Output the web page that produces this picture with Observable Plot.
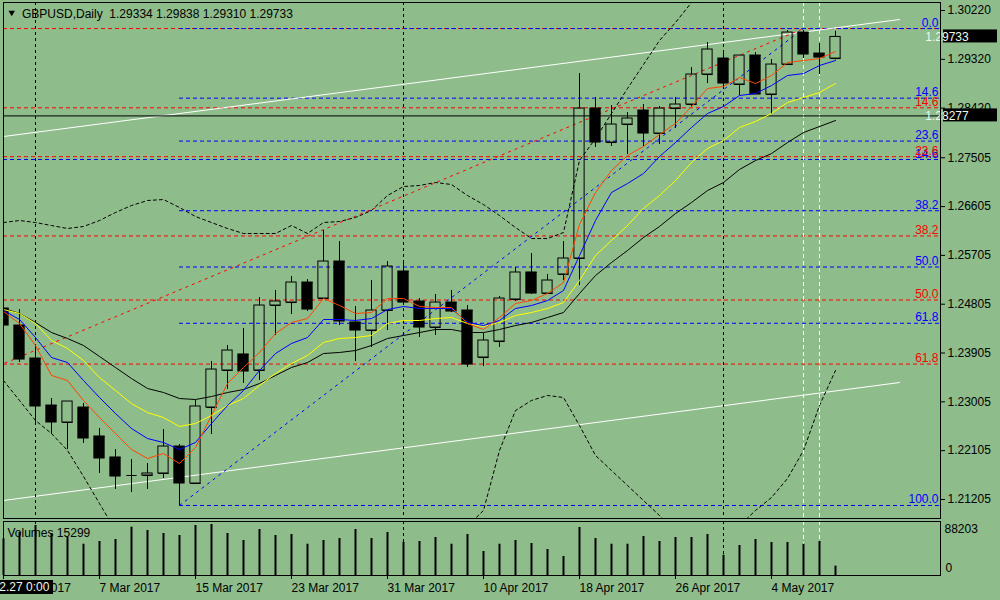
<!DOCTYPE html>
<html><head><meta charset="utf-8">
<script src="https://cdn.jsdelivr.net/npm/d3@7"></script>
<script src="https://cdn.jsdelivr.net/npm/@observablehq/plot@0.6"></script>
<style>
html,body{margin:0;padding:0;background:#8FBC8B;overflow:hidden;}
#chart svg{display:block;}
</style></head><body><div id="chart"></div>
<script>
// ---------- data ----------
const symbol = "GBPUSD", timeframe = "Daily";
const dates = ["2017.02.27","2017.02.28","2017.03.01","2017.03.02","2017.03.03","2017.03.06","2017.03.07","2017.03.08","2017.03.09","2017.03.10",
"2017.03.13","2017.03.14","2017.03.15","2017.03.16","2017.03.17","2017.03.20","2017.03.21","2017.03.22","2017.03.23","2017.03.24",
"2017.03.27","2017.03.28","2017.03.29","2017.03.30","2017.03.31","2017.04.03","2017.04.04","2017.04.05","2017.04.06","2017.04.07",
"2017.04.10","2017.04.11","2017.04.12","2017.04.13","2017.04.14","2017.04.17","2017.04.18","2017.04.19","2017.04.20","2017.04.21",
"2017.04.24","2017.04.25","2017.04.26","2017.04.27","2017.04.28","2017.05.01","2017.05.02","2017.05.03","2017.05.04","2017.05.05",
"2017.05.08","2017.05.09","2017.05.10"];
const open = [1.24726,1.24412,1.23804,1.22937,1.22624,1.22900,1.22366,1.21979,1.21647,1.21647,
1.21684,1.22181,1.21499,1.22900,1.23583,1.23878,1.23583,1.24781,1.24836,1.25205,
1.24910,1.25592,1.24468,1.24320,1.24689,1.25408,1.24855,1.24375,1.24836,1.24689,
1.23822,1.24117,1.24892,1.25390,1.25002,1.25353,1.25648,1.28413,1.27786,1.28118,
1.28376,1.27952,1.28413,1.28487,1.29040,1.29335,1.28856,1.29390,1.28671,1.29224,
1.29814,1.29427,1.29334];
const high = [1.24763,1.24707,1.24062,1.23066,1.23011,1.22974,1.22513,1.22126,1.21942,1.21868,
1.22495,1.22218,1.23030,1.23749,1.24044,1.24357,1.24929,1.25058,1.25316,1.25260,
1.26164,1.25961,1.24763,1.25242,1.25592,1.25611,1.24910,1.24984,1.25058,1.24781,
1.24265,1.24947,1.25482,1.25740,1.25353,1.25961,1.29058,1.28616,1.28468,1.28339,
1.28487,1.28450,1.28616,1.29169,1.29630,1.29482,1.29390,1.29446,1.29317,1.29851,
1.29851,1.29612,1.29838];
const low = [1.24375,1.23730,1.22624,1.22403,1.22126,1.22237,1.21684,1.21389,1.21333,1.21389,
1.21591,1.21094,1.21481,1.22403,1.23232,1.23343,1.23398,1.24228,1.24615,1.24670,
1.24910,1.24412,1.23749,1.24007,1.24320,1.24781,1.24191,1.24228,1.24652,1.23638,
1.23656,1.24007,1.24855,1.24984,1.25002,1.25242,1.25150,1.27694,1.27713,1.27565,
1.27713,1.27749,1.28044,1.28432,1.28874,1.28819,1.28653,1.28671,1.28303,1.29224,
1.29335,1.29040,1.29310];
const close = [1.24412,1.23785,1.22919,1.22624,1.23011,1.22329,1.21960,1.21628,1.21647,1.21684,
1.22181,1.21499,1.22919,1.23601,1.23951,1.23564,1.24781,1.24855,1.25205,1.24707,
1.25592,1.24486,1.24320,1.24689,1.25500,1.24836,1.24375,1.24836,1.24670,1.23693,
1.24136,1.24910,1.25390,1.25002,1.25242,1.25648,1.28413,1.27786,1.28118,1.28229,
1.27952,1.28413,1.28487,1.29040,1.29501,1.28874,1.29390,1.28671,1.29224,1.29814,
1.29409,1.29353,1.29733];
const volume = [60000,70200,81700,68600,62100,51100,55500,58800,78900,73500,
68600,65300,81700,83300,68600,57200,75100,65300,67000,51100,
57200,60400,75100,60400,70200,53900,55500,62100,51100,67000,
39200,51100,57200,52300,42500,31000,78400,60400,51100,51100,
63700,55500,62100,62100,67000,33200,49000,58800,53900,53900,
51100,55500,15299];
const maRed = [1.24670,1.24449,1.24044,1.23491,1.23398,1.23030,1.22716,1.22421,1.22126,1.21960,
1.22052,1.21868,1.22163,1.22753,1.23343,1.23638,1.23915,1.24265,1.24468,1.24541,
1.24910,1.24781,1.24634,1.24652,1.24910,1.24910,1.24763,1.24744,1.24744,1.24449,
1.24339,1.24560,1.24818,1.24873,1.25002,1.25205,1.26275,1.26865,1.27270,1.27547,
1.27713,1.27934,1.28137,1.28450,1.28782,1.28819,1.28985,1.28874,1.29022,1.29261,
1.29298,1.29335,1.29464];
const maBlue = [1.24689,1.24523,1.24191,1.23822,1.23730,1.23398,1.23085,1.22790,1.22513,1.22329,
1.22255,1.22126,1.22255,1.22606,1.22937,1.23214,1.23583,1.23896,1.24081,1.24191,
1.24523,1.24523,1.24505,1.24541,1.24707,1.24763,1.24726,1.24726,1.24726,1.24468,
1.24412,1.24505,1.24726,1.24781,1.24873,1.25058,1.25703,1.26348,1.26865,1.27030,
1.27215,1.27528,1.27786,1.28063,1.28321,1.28450,1.28653,1.28690,1.28837,1.29022,
1.29058,1.29206,1.29298];
const maYellow = [1.24707,1.24634,1.24449,1.24136,1.23988,1.23767,1.23454,1.23214,1.22974,1.22808,
1.22716,1.22550,1.22606,1.22753,1.22937,1.23066,1.23306,1.23527,1.23712,1.23859,
1.24099,1.24173,1.24191,1.24228,1.24449,1.24505,1.24505,1.24541,1.24560,1.24449,
1.24394,1.24468,1.24597,1.24652,1.24726,1.24836,1.25242,1.25703,1.25980,1.26256,
1.26570,1.26809,1.27086,1.27418,1.27676,1.27823,1.28063,1.28174,1.28321,1.28524,
1.28616,1.28708,1.28874];
const maBlack = [1.24726,1.24634,1.24468,1.24283,1.24173,1.24044,1.23841,1.23638,1.23435,1.23251,
1.23177,1.23066,1.23048,1.23103,1.23177,1.23232,1.23343,1.23491,1.23638,1.23730,
1.23896,1.23915,1.23951,1.24044,1.24173,1.24228,1.24283,1.24339,1.24339,1.24283,
1.24283,1.24339,1.24412,1.24468,1.24560,1.24652,1.25002,1.25334,1.25574,1.25795,
1.26035,1.26238,1.26477,1.26680,1.26901,1.27049,1.27289,1.27454,1.27583,1.27786,
1.27971,1.28081,1.28192];
const bbUpper = [1.26311,1.26348,1.26311,1.26256,1.26201,1.26238,1.26348,1.26496,1.26625,1.26717,
1.26735,1.26588,1.26422,1.26311,1.26201,1.26109,1.26109,1.26109,1.26256,1.26109,
1.26311,1.26330,1.26404,1.26533,1.26809,1.26975,1.26994,1.27049,1.27012,1.26809,
1.26643,1.26440,1.26219,1.26016,1.26016,1.26127,1.27455,1.27860,1.28321,1.28782,
1.29224,1.29667,1.29999,1.30368,1.30736,1.31050,1.31300,1.31500,1.31650,1.31800,
1.31900,1.31950,1.32000];
const bbLower = [1.23398,1.23030,1.22661,1.22421,1.22108,1.21629,1.21130,1.20633,1.20172,1.19803,
1.19527,1.19342,1.19300,1.19300,1.19350,1.19450,1.19550,1.19600,1.19650,1.19700,
1.19750,1.19850,1.19950,1.20050,1.20100,1.20150,1.20200,1.20300,1.20450,1.20717,
1.21002,1.22108,1.22845,1.23030,1.23122,1.23085,1.22569,1.22016,1.21739,1.21463,
1.21186,1.20909,1.20633,1.20449,1.20357,1.20449,1.20725,1.21002,1.21241,1.21591,
1.22108,1.22937,1.23583];

const priceTicks = [1.30220,1.29320,1.28420,1.27505,1.26605,1.25705,1.24805,1.23905,1.23005,1.22105,1.21205];
const dateTicks = ["2017.02.27","2017.03.07","2017.03.15","2017.03.23","2017.03.31","2017.04.10","2017.04.18","2017.04.26","2017.05.04"];
const fibLevels = [0, 14.6, 23.6, 38.2, 50, 61.8, 100];
const blueFib = {x1: 11, p100: 1.21094, x2: 50, p0: 1.29888};
const redFib = {x1: -31, p100: 1.19877, x2: 50, p0: 1.29888};
const extraBlueLevel = [{level: 14.6, price: 1.27473}];
const channelUpper = [{x: 0, p: 1.27897}, {x: 56, p: 1.30054}];
const channelLower = [{x: 0, p: 1.21186}, {x: 56, p: 1.23361}];
const monthStarts = ["2017.03.01","2017.04.03","2017.05.01"];
const whiteMarks = ["2017.05.08","2017.05.09"];
const crosshair = {date: "2017.02.27", time: "0:00", price: 1.28277};
const volumeMax = 88203;

// ---------- setup ----------
const BG = "#8FBC8B", RED = "#FF0000", BLUE = "#0000FF", MARED = "#FF4500", LIGHT = "#eef8ec";
const FONT = "Liberation Sans, Arial, sans-serif";
const xDomain = [0, 58.5625];
const yDomain = [1.20854, 1.30368];
const HALF = 0.32;

const candles = dates.map((d, k) => ({
  k, date: d, open: open[k], high: high[k], low: low[k], close: close[k], volume: volume[k],
  maRed: maRed[k], maBlue: maBlue[k], maYellow: maYellow[k], maBlack: maBlack[k],
  bbUpper: bbUpper[k], bbLower: bbLower[k]
}));
const kOf = d => dates.indexOf(d);
const fibPrice = (f, l) => f.p0 - (l / 100) * (f.p0 - f.p100);
const inRange = p => p >= yDomain[0] && p <= yDomain[1];
const parse = d3.timeParse("%Y.%m.%d"), fmt = d3.timeFormat("%-d %b %Y");
const tickMap = new Map(dateTicks.map(d => [kOf(d), fmt(parse(d))]));
const last = candles[candles.length - 1];
const header = `${symbol},${timeframe}\u00a0 ${last.open.toFixed(5)} ${last.high.toFixed(5)} ${last.low.toFixed(5)} ${last.close.toFixed(5)}`;

function priceBox(price) {
  return (index, scales, values, dims) => {
    const y = scales.y(price);
    const x0 = dims.width - dims.marginRight + 3;
    const g = d3.create("svg:g");
    g.append("rect").attr("x", x0).attr("y", y - 7).attr("width", 54).attr("height", 13).attr("fill", "black");
    g.append("text").attr("x", x0 + 4).attr("y", y).attr("dy", "0.36em").attr("fill", LIGHT)
      .attr("font-size", 12).text(price.toFixed(5));
    return g.node();
  };
}
function dateBox(index, scales, values, dims) {
  const x = scales.x(kOf(crosshair.date));
  const y0 = dims.height - dims.marginBottom + 5;
  const g = d3.create("svg:g");
  g.append("rect").attr("x", x - 46).attr("y", y0).attr("width", 96).attr("height", 14).attr("fill", "black");
  g.append("text").attr("x", x + 3).attr("y", y0 + 7).attr("dy", "0.36em").attr("text-anchor", "middle")
    .attr("fill", LIGHT).attr("font-size", 12).text(`${crosshair.date} ${crosshair.time}`);
  return g.node();
}

const bull = candles.filter(d => d.close >= d.open);
const bear = candles.filter(d => d.close < d.open);

const main = Plot.plot({
  width: 1000, height: 520,
  marginTop: 2, marginBottom: 2, marginLeft: 3, marginRight: 60,
  style: {background: BG, fontFamily: FONT, fontSize: "12px", color: "black"},
  x: {domain: xDomain, axis: null},
  y: {domain: yDomain, axis: null},
  marks: [
    // fibonacci levels
    Plot.ruleY(fibLevels.filter(l => inRange(fibPrice(redFib, l))), {y: l => fibPrice(redFib, l), stroke: RED, strokeDasharray: "4,3"}),
    Plot.ruleY(extraBlueLevel, {y: "price", stroke: BLUE, strokeDasharray: "4,3"}),
    Plot.ruleY(fibLevels, {y: l => fibPrice(blueFib, l), x1: () => blueFib.x1, x2: () => xDomain[1], stroke: BLUE, strokeDasharray: "4,3"}),
    // channel
    Plot.line(channelUpper, {x: "x", y: "p", stroke: "white", strokeWidth: 1}),
    Plot.line(channelLower, {x: "x", y: "p", stroke: "white", strokeWidth: 1}),
    // bollinger bands
    Plot.line(candles, {x: "k", y: "bbUpper", stroke: "black", strokeWidth: 1, strokeDasharray: "3,3", clip: true}),
    Plot.line(candles, {x: "k", y: "bbLower", stroke: "black", strokeWidth: 1, strokeDasharray: "3,3", clip: true}),
    // fib trend lines
    Plot.link([redFib], {x1: "x1", y1: "p100", x2: "x2", y2: "p0", stroke: RED, strokeDasharray: "3,4", clip: true}),
    Plot.link([blueFib], {x1: "x1", y1: "p100", x2: "x2", y2: "p0", stroke: BLUE, strokeDasharray: "3,4", clip: true}),
    // separators
    Plot.ruleX(monthStarts, {x: kOf, stroke: "black", strokeDasharray: "3,3"}),
    Plot.ruleX(whiteMarks, {x: kOf, stroke: "white", strokeDasharray: "4,3"}),
    // crosshair
    Plot.ruleY([crosshair.price], {stroke: "black"}),
    // candles
    Plot.ruleX(candles, {x: "k", y1: "high", y2: d => Math.max(d.open, d.close), stroke: "black", clip: true}),
    Plot.ruleX(candles, {x: "k", y1: d => Math.min(d.open, d.close), y2: "low", stroke: "black", clip: true}),
    Plot.rect(bear, {x1: d => d.k - HALF, x2: d => d.k + HALF, y1: "open", y2: "close", fill: "black", stroke: "black", clip: true}),
    Plot.rect(bull, {x1: d => d.k - HALF, x2: d => d.k + HALF, y1: "open", y2: "close", fill: "none", stroke: "black", clip: true}),
    Plot.link(candles, {x1: d => d.k - HALF, x2: d => d.k + HALF, y1: "open", y2: "open", stroke: "black", clip: true}),
    // moving averages
    Plot.line(candles, {x: "k", y: "maBlack", stroke: "black", strokeWidth: 1}),
    Plot.line(candles, {x: "k", y: "maYellow", stroke: "#FFFF00", strokeWidth: 1}),
    Plot.line(candles, {x: "k", y: "maBlue", stroke: BLUE, strokeWidth: 1}),
    Plot.line(candles, {x: "k", y: "maRed", stroke: MARED, strokeWidth: 1}),
    // fib labels
    Plot.text(extraBlueLevel, {y: "price", text: d => d.level.toFixed(1), frameAnchor: "right", textAnchor: "end", lineAnchor: "bottom", dx: -2, dy: -2, fill: BLUE}),
    Plot.text(fibLevels.filter(l => l > 0 && inRange(fibPrice(redFib, l))), {y: l => fibPrice(redFib, l), text: l => l.toFixed(1), frameAnchor: "right", textAnchor: "end", lineAnchor: "bottom", dx: -2, dy: -2, fill: RED}),
    Plot.text(fibLevels, {y: l => fibPrice(blueFib, l), text: l => l.toFixed(1), frameAnchor: "right", textAnchor: "end", lineAnchor: "bottom", dx: -2, dy: -2, fill: BLUE}),
    // header
    Plot.dot([header], {frameAnchor: "top-left", dx: 8.2, dy: 10, symbol: "triangle", rotate: 180, r: 2.4, fill: "black", stroke: null}),
    Plot.text([header], {text: d => d, frameAnchor: "top-left", dx: 18.5, dy: 15.5, textAnchor: "start", lineAnchor: "bottom", fill: "black"}),
    // price axis
    Plot.axisY(priceTicks, {anchor: "right", tickSize: 4, tickPadding: 3, tickFormat: d => d.toFixed(5), label: null}),
    priceBox(last.close),
    priceBox(crosshair.price),
    Plot.frame({stroke: "black"})
  ]
});

const vol = Plot.plot({
  width: 1000, height: 80,
  marginTop: 1, marginBottom: 25, marginLeft: 3, marginRight: 60,
  style: {background: BG, fontFamily: FONT, fontSize: "12px", color: "black"},
  x: {domain: xDomain, axis: null},
  y: {domain: [0, volumeMax], axis: null},
  marks: [
    Plot.ruleX(monthStarts, {x: kOf, stroke: "black", strokeDasharray: "3,3"}),
    Plot.ruleX(whiteMarks, {x: kOf, stroke: "white", strokeDasharray: "4,3"}),
    Plot.ruleX(candles, {x: "k", y1: 0, y2: "volume", stroke: "black", strokeWidth: 2}),
    Plot.text([`Volumes ${last.volume}`], {text: d => d, frameAnchor: "top-left", dx: 4, dy: 15, textAnchor: "start", lineAnchor: "bottom"}),
    Plot.text([volumeMax], {text: d => String(d), frameAnchor: "top-right", dx: 4, dy: 8, textAnchor: "start", lineAnchor: "middle"}),
    Plot.text([0], {text: d => String(d), frameAnchor: "bottom-right", dx: 5, dy: -7, textAnchor: "start", lineAnchor: "middle"}),
    Plot.axisX([...tickMap.keys()], {anchor: "bottom", tickSize: 4, tickPadding: 4, tickFormat: d => tickMap.get(d), textAnchor: "start", label: null}),
    dateBox,
    Plot.frame({stroke: "black"})
  ]
});

document.getElementById("chart").append(main, vol);
</script>
</body></html>
